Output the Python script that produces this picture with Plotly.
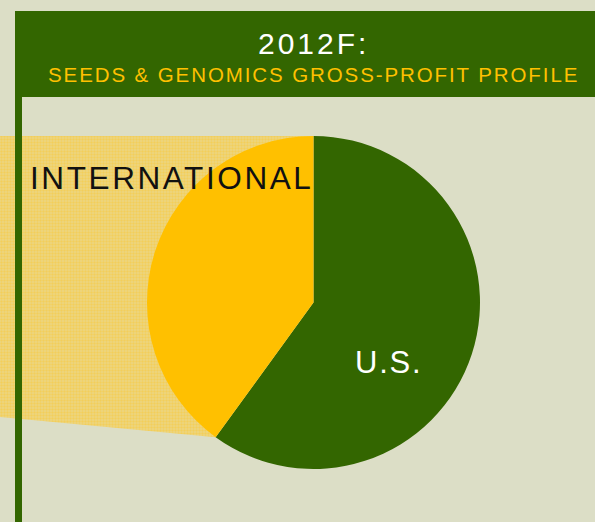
import math
import plotly.graph_objects as go

# ===================== Data =====================
labels = ["U.S.", "INTERNATIONAL"]
shares = [60, 40]
title_main = "2012F:"
title_sub = "SEEDS & GENOMICS GROSS-PROFIT PROFILE"

# ===================== Style =====================
W, H = 595, 522
BG = "#dcdec6"
GREEN = "#336600"
YELLOW = "#ffc000"
FONT = "Liberation Sans, Arial, sans-serif"

# pie box in pixels
cx, cy, r = 313.5, 302.5, 166.5


def spaced(txt, px):
    return f'<span style="letter-spacing:{px}px">{txt}</span>'


fig = go.Figure()

# yellow callout band from the international slice to the left edge
intl_frac = shares[1] / sum(shares)
ang = math.radians(360 * (1 - intl_frac))  # clockwise from 12 o'clock
bx = cx + r * math.sin(ang)
by = cy - r * math.cos(ang)
fig.add_trace(go.Scatter(
    x=[0, cx, bx, 0, 0],
    y=[cy - r, cy - r, by, 417, cy - r],
    mode="lines", line=dict(width=0), fill="toself",
    fillcolor="#efd46c",
    fillpattern=dict(shape=".", fgcolor="#f7c634", bgcolor="#ecd683", size=3, solidity=0.5),
    hoverinfo="skip", showlegend=False,
))

fig.add_trace(go.Pie(
    labels=labels, values=shares,
    sort=False, direction="clockwise", rotation=0,
    marker=dict(colors=[GREEN, YELLOW], line=dict(width=0)),
    textinfo="none", hoverinfo="label+percent", showlegend=False,
    domain=dict(x=[(cx - r) / W, (cx + r) / W], y=[1 - (cy + r) / H, 1 - (cy - r) / H]),
))

# header bar and left rule
fig.add_shape(type="rect", xref="x", yref="y", x0=15, x1=W, y0=11, y1=97,
              fillcolor=GREEN, line_width=0, layer="above")
fig.add_shape(type="rect", xref="x", yref="y", x0=15, x1=22, y0=11, y1=H,
              fillcolor=GREEN, line_width=0, layer="above")

fig.add_annotation(x=313, y=43, xref="x", yref="y", text=spaced(title_main, 3), showarrow=False,
                   font=dict(family=FONT, size=30, color="white"))
fig.add_annotation(x=313, y=74, xref="x", yref="y", text=spaced(title_sub, 1.9), showarrow=False,
                   font=dict(family=FONT, size=20.5, color=YELLOW))

fig.add_annotation(x=172, y=178, xref="x", yref="y", text=spaced(labels[1], 2.6), showarrow=False,
                   font=dict(family=FONT, size=31.5, color="#111111"))
fig.add_annotation(x=389, y=362, xref="x", yref="y", text=spaced(labels[0], 1.8), showarrow=False,
                   font=dict(family=FONT, size=31, color="white"))

fig.update_layout(
    width=W, height=H,
    margin=dict(l=0, r=0, t=0, b=0),
    paper_bgcolor=BG, plot_bgcolor=BG,
    xaxis=dict(range=[0, W], visible=False, fixedrange=True),
    yaxis=dict(range=[H, 0], visible=False, fixedrange=True),
)

fig.write_html(
    "out.html",
    config={"displayModeBar": False},
    post_script="document.body.style.margin='0';document.body.style.background='%s';" % BG,
)
